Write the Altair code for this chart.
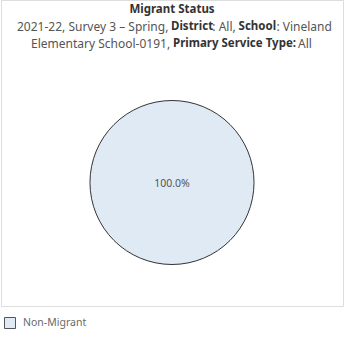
import altair as alt
import pandas as pd

# ---- data ----
categories = ["Non-Migrant"]
shares = [1.0]

title_main = "Migrant Status"
line2_texts = ["2021-22, Survey 3 – Spring,", "District", ": All,", "School", ": Vineland"]
line2_bold = [False, True, False, True, False]
line3_texts = ["Elementary School-0191,", "Primary Service Type:", "All"]
line3_bold = [False, True, False]

# ---- layout (segment left edges, relative to the plot area) ----
line2_x = [16, 170, 211.3, 237.6, 275.4]
line3_x = [30, 172, 297]
FONT = "Noto Sans"

df = pd.DataFrame({"status": categories, "share": shares})

W, H = 342, 306
CX, CY = 171, 182.5

color_scale = alt.Scale(domain=categories, range=["#dfeaf5"])

pie = alt.Chart(df).mark_arc(outerRadius=82, stroke="#333333", strokeWidth=1).encode(
    theta=alt.Theta("share:Q", stack=True),
    color=alt.Color(
        "status:N",
        scale=color_scale,
        legend=alt.Legend(
            title=None,
            orient="none",
            legendX=3,
            legendY=317,
            symbolType="square",
            symbolSize=121,
            symbolStrokeColor="#555555",
            symbolStrokeWidth=1,
            labelFont=FONT,
            labelFontSize=10.5,
            labelColor="#6a6a6a",
            labelOffset=7,
            padding=0,
        ),
    ),
    x=alt.value(CX),
    y=alt.value(CY),
)

label = alt.Chart(df).mark_text(font=FONT, fontSize=10.5, color="#555555").encode(
    text=alt.Text("share:Q", format=".1%"),
    x=alt.value(CX),
    y=alt.value(CY + 1),
)

layers = [pie, label]

layers.append(
    alt.Chart(pd.DataFrame({"t": [title_main]})).mark_text(
        font=FONT, fontSize=11.5, fontWeight="bold", color="#333333", baseline="middle"
    ).encode(text="t:N", x=alt.value(171), y=alt.value(10))
)

for texts, bolds, xs, yy in [(line2_texts, line2_bold, line2_x, 26.5), (line3_texts, line3_bold, line3_x, 43.5)]:
    for t, b, xx in zip(texts, bolds, xs):
        layers.append(
            alt.Chart(pd.DataFrame({"t": [t]})).mark_text(
                font=FONT,
                fontSize=11.5 if b else 12,
                fontWeight="bold" if b else "normal",
                color="#333333" if b else "#555555",
                baseline="middle",
                align="left",
            ).encode(text="t:N", x=alt.value(xx), y=alt.value(yy))
        )

chart = alt.layer(*layers).properties(
    width=W,
    height=H,
    padding={"left": 1, "top": 0, "right": 1, "bottom": 33},
    autosize=alt.AutoSizeParams(type="none"),
).configure_view(stroke="#d3d3d3", strokeWidth=1).configure(background="white")

chart.save("out.html", embed_options={"renderer": "svg", "actions": False})
